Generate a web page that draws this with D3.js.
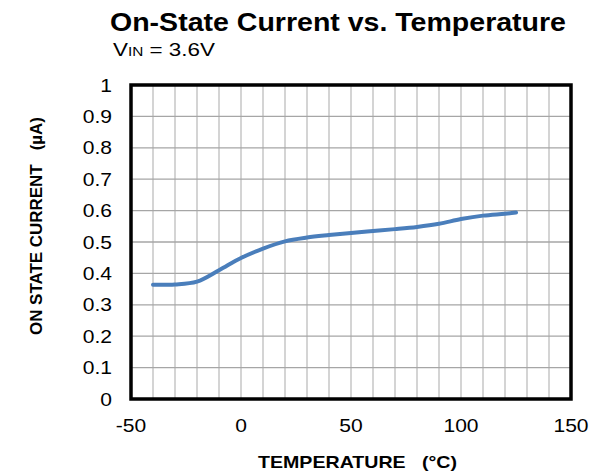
<!DOCTYPE html>
<html><head><meta charset="utf-8">
<script src="https://cdn.jsdelivr.net/npm/d3@7/dist/d3.min.js"></script>
<style>body{margin:0;background:#fff;} svg{display:block;font-family:Arial,"Liberation Sans",sans-serif;}</style>
</head><body>
<svg id="c" width="599" height="476"></svg>
<script>
const temps = [-40, -30, -20, -10, 0, 10, 20, 30, 40, 50, 60, 70, 80, 90, 100, 110, 120, 125];
const current = [0.364, 0.365, 0.374, 0.41, 0.449, 0.479, 0.502, 0.514, 0.522, 0.529, 0.535, 0.541, 0.548, 0.558, 0.573, 0.584, 0.590, 0.594];
const xTicks = [-50, 0, 50, 100, 150];
const yTicks = [0, 0.1, 0.2, 0.3, 0.4, 0.5, 0.6, 0.7, 0.8, 0.9, 1];
const xGrid = d3.range(-50, 151, 10);

const svg = d3.select("#c");
const L = 131, R = 571, T = 85, B = 399;
const SX = 1.17;
const x = d3.scaleLinear().domain([-50, 150]).range([L, R]);
const y = d3.scaleLinear().domain([0, 1]).range([B, T]);

// grid
svg.append("g").selectAll("line").data(xGrid).join("line")
  .attr("x1", d => x(d)).attr("x2", d => x(d)).attr("y1", T).attr("y2", B)
  .attr("stroke", "#bdbdbd").attr("stroke-width", 1.3);
svg.append("g").selectAll("line").data(yTicks).join("line")
  .attr("x1", L).attr("x2", R).attr("y1", d => y(d)).attr("y2", d => y(d))
  .attr("stroke", "#a6a6a6").attr("stroke-width", 1.3);

// line
svg.append("path").datum(temps.map((t, i) => [t, current[i]]))
  .attr("fill", "none").attr("stroke", "#4a7ebb").attr("stroke-width", 4)
  .attr("stroke-linecap", "round")
  .attr("d", d3.line().x(d => x(d[0])).y(d => y(d[1])).curve(d3.curveCatmullRom));

// border
svg.append("rect").attr("x", L).attr("y", T).attr("width", R - L).attr("height", B - T)
  .attr("fill", "none").attr("stroke", "#000").attr("stroke-width", 3.5);

// y tick labels
svg.append("g").selectAll("text").data(yTicks).join("text")
  .attr("transform", d => `translate(112,${y(d) + 6.5}) scale(${SX},1)`).attr("text-anchor", "end")
  .attr("font-size", 18).text(d => String(+d.toFixed(1)));
// x tick labels
svg.append("g").selectAll("text").data(xTicks).join("text")
  .attr("transform", d => `translate(${x(d)},432) scale(${SX},1)`).attr("text-anchor", "middle")
  .attr("font-size", 18).text(d => d);

// titles
svg.append("text").attr("transform", "translate(110,31) scale(1.12,1)")
  .attr("font-size", 25).attr("font-weight", "bold")
  .attr("textLength", 456 / 1.12).attr("lengthAdjust", "spacingAndGlyphs")
  .text("On-State Current vs. Temperature");
const sub = svg.append("text").attr("x", 113).attr("y", 56).attr("font-size", 19)
  .attr("textLength", 102).attr("lengthAdjust", "spacingAndGlyphs");
sub.append("tspan").text("V");
sub.append("tspan").attr("font-size", 13).text("IN");
sub.append("tspan").text(" = 3.6V");

svg.append("text").attr("x", 258).attr("y", 468)
  .attr("font-size", 17).attr("font-weight", "bold").attr("xml:space", "preserve")
  .attr("textLength", 199).attr("lengthAdjust", "spacingAndGlyphs")
  .text("TEMPERATURE   (°C)");
svg.append("text").attr("transform", "translate(42,335) rotate(-90)")
  .attr("font-size", 17).attr("font-weight", "bold").attr("xml:space", "preserve")
  .attr("textLength", 218).attr("lengthAdjust", "spacingAndGlyphs")
  .text("ON STATE CURRENT   (µA)");
</script>
</body></html>
